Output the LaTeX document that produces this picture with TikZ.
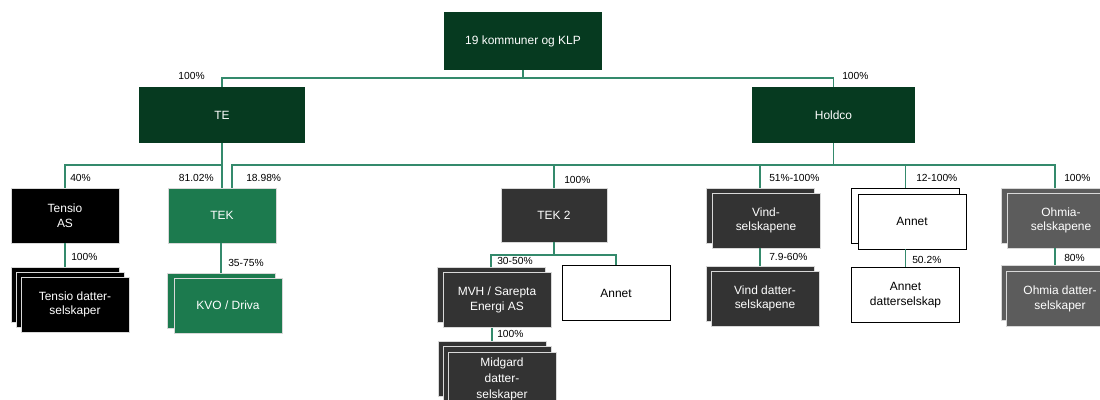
\documentclass[tikz,border=0pt]{standalone}
\usepackage{fontspec}
\setmainfont{Liberation Sans}
\usetikzlibrary{calc}
\definecolor{darkgreen}{HTML}{063A20}
\definecolor{tekgreen}{HTML}{1C7A4E}
\definecolor{darkgrey}{HTML}{333333}
\definecolor{midgrey}{HTML}{5C5C5C}
\definecolor{linegreen}{HTML}{348A6C}
\definecolor{edgegrey}{HTML}{D8D8D8}
\tikzset{
  box/.style={rectangle, inner sep=0, minimum width=2.7cm, minimum height=1.375cm,
    align=center, text=white, font=\fontsize{8.5}{10.5}\selectfont},
  dgbox/.style={box, fill=darkgreen},
  tkbox/.style={box, fill=tekgreen, draw=edgegrey, line width=0.5pt},
  bkbox/.style={box, fill=black, draw=edgegrey, line width=0.5pt},
  gybox/.style={box, fill=darkgrey, draw=edgegrey, line width=0.5pt},
  mgbox/.style={box, fill=midgrey, draw=edgegrey, line width=0.5pt},
  wtbox/.style={box, fill=white, draw=black, line width=0.6pt, text=black},
  link/.style={draw=linegreen, line width=0.9pt},
  pct/.style={inner sep=0, font=\fontsize{7.3}{8}\selectfont},
}
\begin{document}
\begin{tikzpicture}[x=0.025cm, y=-0.025cm]
        \clip (0,0) rectangle (1100,400);

        \node[dgbox, minimum width=3.95cm, minimum height=1.45cm] (top) at (523,41) {19 kommuner og KLP};
        \node[dgbox, minimum width=4.125cm, minimum height=1.4cm] (te) at (222,115) {TE};
        \node[dgbox, minimum width=4.075cm, minimum height=1.4cm] (holdco) at (833.5,115) {Holdco};

        \coordinate (bus1) at (523,78);
        \draw[link] (top.south) to (bus1);
        \draw[link] (te.north) |- (bus1) -| (holdco.north);

        \node[bkbox] (tensio) at (65,215.5) {Tensio\\AS};
        \node[tkbox] (tek) at (222,215.5) {TEK};
        \node[gybox, minimum width=2.65cm, minimum height=1.35cm] (tek2) at (554,215) {TEK 2};
        \node[gybox] (vindb) at (760,215.5) {};
            \node[gybox] (vind) at (766,220.5) {Vind-\\selskapene};
        \node[wtbox] (annetb) at (905.5,215.5) {};
            \node[wtbox] (annet) at (912,221.5) {Annet};
        \node[mgbox] (ohmiab) at (1055,215.5) {};
            \node[mgbox] (ohmia) at (1061,220.5) {Ohmia-\\selskapene};

        \coordinate (bus2) at (222,165);
        \draw[link] (te.south) to (bus2);
        \draw[link] (tensio.north) |- (bus2) to (tek.north);
        \coordinate (bus3) at (833.5,165);
        \draw[link] (holdco.south) to (bus3);
        \draw[link] ($(tek.north)+(10,0)$) |- (bus3) -| (ohmiab.north);
        \draw[link] (tek2.north) to (tek2.north |- bus3);
        \draw[link] (vindb.north) to (vindb.north |- bus3);
        \draw[link] (annetb.north) to (annetb.north |- bus3);

        \node[bkbox] (tensiodb) at (65,294.5) {};
            \node[bkbox] (tensiodm) at (70,299.5) {};
            \node[bkbox] (tensiod) at (75,304.5) {Tensio datter-\\selskaper};
        \node[tkbox] (kvob) at (221,300.5) {};
            \node[tkbox] (kvo) at (228,305.5) {KVO / Driva};
        \node[gybox] (mvhb) at (491,295) {};
            \node[gybox] (mvh) at (497,300) {MVH / Sarepta\\Energi AS};
        \node[wtbox] (annet2) at (616,293) {Annet};
        \node[gybox] (midb) at (492,368.5) {};
            \node[gybox] (midm) at (497,373.5) {};
            \node[gybox, font=\fontsize{8.5}{11.5}\selectfont] (mid) at (502,379.5) {Midgard\\datter-\\selskaper};
        \node[gybox] (vinddb) at (760,293.5) {};
            \node[gybox] (vindd) at (765,298.5) {Vind datter-\\selskapene};
        \node[wtbox] (annetd) at (905.5,295) {Annet\\datterselskap};
        \node[mgbox] (ohmiadb) at (1055,293) {};
            \node[mgbox] (ohmiad) at (1060,299) {Ohmia datter-\\selskaper};

        \coordinate (bus4) at (554,255);
        \draw[link] (tensiodb.north) to (tensiodb.north |- tensio.south);
        \draw[link] (kvob.north) to (kvob.north |- tek.south);
        \draw[link] (tek2.south) to (bus4);
        \draw[link] (mvhb.north) |- (bus4) -| (annet2.north);
        \draw[link] (midb.north) to (midb.north |- mvh.south);
        \draw[link] (vinddb.north) to (vinddb.north |- vind.south);
        \draw[link] (annetd.north) to (annetd.north |- annet.south);
        \draw[link] (ohmiadb.north) to (ohmiadb.north |- ohmia.south);

        \node[pct, anchor=east] (pte) at (205,76) {100\%};
        \node[pct, anchor=west] (pholdco) at (842,76) {100\%};
        \node[pct, anchor=west] (ptensio) at (70,178) {40\%};
        \node[pct, anchor=east] (ptek) at (214,178) {81.02\%};
        \node[pct, anchor=west] (ptekh) at (246,178) {18.98\%};
        \node[pct, anchor=west] (ptek2) at (564,180) {100\%};
        \node[pct, anchor=west] (pvind) at (769,178) {51\%-100\%};
        \node[pct, anchor=west] (pannet) at (916,178) {12-100\%};
        \node[pct, anchor=west] (pohmia) at (1064,178) {100\%};
        \node[pct, anchor=west] (ptensiod) at (71,257) {100\%};
        \node[pct, anchor=west] (pkvo) at (228,263) {35-75\%};
        \node[pct, anchor=west] (pmvh) at (497,261) {30-50\%};
        \node[pct, anchor=west] (pmid) at (497,334) {100\%};
        \node[pct, anchor=west] (pvindd) at (769,257) {7.9-60\%};
        \node[pct, anchor=west] (pannetd) at (912,260) {50.2\%};
        \node[pct, anchor=west] (pohmiad) at (1064,258) {80\%};
    \end{tikzpicture}
\end{document}
